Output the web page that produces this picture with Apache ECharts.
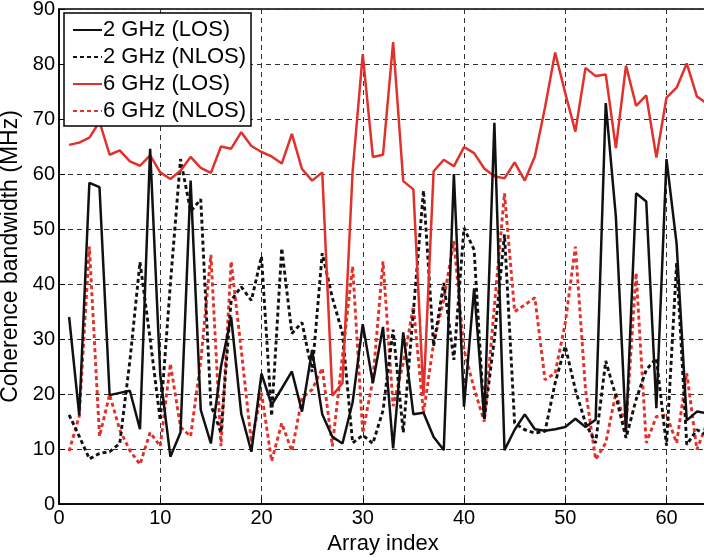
<!DOCTYPE html>
<html>
<head>
<meta charset="utf-8">
<script src="https://cdn.jsdelivr.net/npm/echarts@6/dist/echarts.min.js"></script>
<style>
html,body{margin:0;padding:0;background:#fff;overflow:hidden;width:704px;height:557px;}
#chart{width:707px;height:557px;}
</style>
</head>
<body>
<div id="chart"></div>
<script>
const seriesNames = ['2 GHz (LOS)', '2 GHz (NLOS)', '6 GHz (LOS)', '6 GHz (NLOS)'];
const xTicks = [0, 10, 20, 30, 40, 50, 60];
const yTicks = [0, 10, 20, 30, 40, 50, 60, 70, 80, 90];

const los2 = [34.0,16.1,58.4,57.6,19.8,20.2,20.6,13.6,64.6,23.5,
  8.6,13.0,58.8,17.1,11.0,25.0,34.0,16.4,9.5,23.7,
  18.0,21.0,24.1,16.8,28.0,16.3,12.2,11.0,18.5,32.7,
  22.0,32.2,10.1,31.2,16.3,16.6,12.2,9.8,60.0,17.7,
  39.2,15.5,69.3,9.8,13.5,16.3,13.6,13.3,13.6,14.0,
  15.5,14.0,15.3,72.9,52.2,13.0,56.5,55.0,17.4,62.7,
  47.3,15.2,16.8,16.5];

const nlos2 = [16.2,12.3,8.2,9.2,9.5,11.0,26.0,44.0,30.0,15.2,
  40.0,62.7,53.2,55.4,18.0,13.0,37.0,39.5,37.0,45.0,
  16.0,46.5,31.0,33.0,24.0,45.6,37.5,31.0,11.1,12.5,
  11.0,17.0,31.7,13.0,35.0,57.0,28.7,40.2,26.2,50.2,
  46.2,15.3,30.0,49.0,14.7,13.5,12.9,13.2,22.0,28.7,
  20.8,14.7,11.1,26.0,19.6,12.0,19.0,24.4,26.5,10.6,
  43.8,10.8,13.5,12.5];

const los6 = [65.3,65.7,66.6,69.5,63.5,64.3,62.3,61.5,63.4,60.3,
  59.1,60.6,63.1,61.1,60.2,65.0,64.6,67.6,65.1,64.0,
  63.2,61.9,67.3,60.9,58.8,60.3,19.7,22.0,60.5,81.8,
  63.1,63.5,84.0,58.7,57.2,19.7,60.5,62.6,61.4,64.9,
  63.8,61.0,59.6,59.2,62.1,58.8,63.2,72.1,82.1,74.7,
  67.7,79.3,77.8,78.1,64.7,79.7,72.4,74.3,63.0,73.9,
  75.7,80.1,74.1,72.8];

const nlos6 = [9.6,16.0,46.8,12.3,19.9,13.5,9.7,7.2,13.0,10.5,
  25.5,14.0,12.3,26.0,45.3,10.5,44.1,28.0,11.2,20.2,
  7.8,14.7,9.6,19.3,20.8,24.7,10.5,27.0,43.2,12.9,
  22.6,44.1,17.8,25.6,35.9,16.5,29.3,37.2,47.8,28.0,
  21.0,15.0,36.0,56.5,35.0,36.2,37.5,22.6,23.8,32.9,
  46.8,20.8,8.1,11.1,20.2,14.1,42.0,11.1,15.9,16.2,
  11.1,23.8,9.9,14.7];

const toPairs = arr => arr.map((v, i) => [i + 1, v]);
const FONT = 'Liberation Sans, Arial, Helvetica, sans-serif';
const BLACK = '#111111';
const RED = '#e2302a';

const chart = echarts.init(document.getElementById('chart'), null, {renderer: 'canvas'});

function mkSeries(name, arr, color, dashed) {
  return {
    name: name,
    type: 'line',
    data: toPairs(arr),
    symbol: 'none',
    showSymbol: false,
    animation: false,
    lineStyle: {color: color, width: dashed ? 2.9 : 2.5, type: dashed ? [4, 3] : 'solid'},
    itemStyle: {color: color}
  };
}

chart.setOption({
  animation: false,
  backgroundColor: '#fff',
  grid: {left: 59, top: 9, right: 0, bottom: 53, containLabel: false, outerBoundsMode: 'none',
    show: true, borderColor: '#000', borderWidth: 1.5, backgroundColor: 'transparent'},
  legend: {
    orient: 'vertical',
    left: 64, top: 13,
    backgroundColor: '#fff',
    borderColor: '#000', borderWidth: 1.5, borderRadius: 0,
    padding: [6, 5, 4, 8],
    itemWidth: 29, itemHeight: 14, itemGap: 5,
    itemStyle: {opacity: 0},
    data: seriesNames,
    textStyle: {fontFamily: FONT, fontSize: 22, color: '#000', padding: [0, 0, 0, -4]}
  },
  xAxis: {
    type: 'value', min: 0, max: 64, interval: 10,
    name: 'Array index', nameLocation: 'middle', nameGap: 29,
    nameTextStyle: {fontFamily: FONT, fontSize: 22, color: '#000'},
    axisLine: {show: true, lineStyle: {color: '#000', width: 1.5}},
    axisTick: {show: true, inside: true, length: 6, lineStyle: {color: '#000'}},
    axisLabel: {fontFamily: FONT, fontSize: 20, color: '#000', margin: 4, showMaxLabel: false,
      formatter: v => xTicks.includes(v) ? String(v) : ''},
    splitLine: {show: true, lineStyle: {color: '#333', width: 1, type: [5, 4]}}
  },
  yAxis: {
    type: 'value', min: 0, max: 90, interval: 10,
    name: 'Coherence bandwidth (MHz)', nameLocation: 'middle', nameGap: 30,
    nameTextStyle: {fontFamily: FONT, fontSize: 23, color: '#000'},
    axisLine: {show: true, lineStyle: {color: '#000', width: 1.5}},
    axisTick: {show: true, inside: true, length: 6, lineStyle: {color: '#000'}},
    axisLabel: {fontFamily: FONT, fontSize: 20, color: '#000', margin: 4,
      formatter: v => yTicks.includes(v) ? String(v) : ''},
    splitLine: {show: true, lineStyle: {color: '#333', width: 1, type: [5, 4]}}
  },
  series: [
    mkSeries(seriesNames[3], nlos6, RED, true),
    mkSeries(seriesNames[1], nlos2, BLACK, true),
    mkSeries(seriesNames[2], los6, RED, false),
    mkSeries(seriesNames[0], los2, BLACK, false)
  ]
});
</script>
</body>
</html>
